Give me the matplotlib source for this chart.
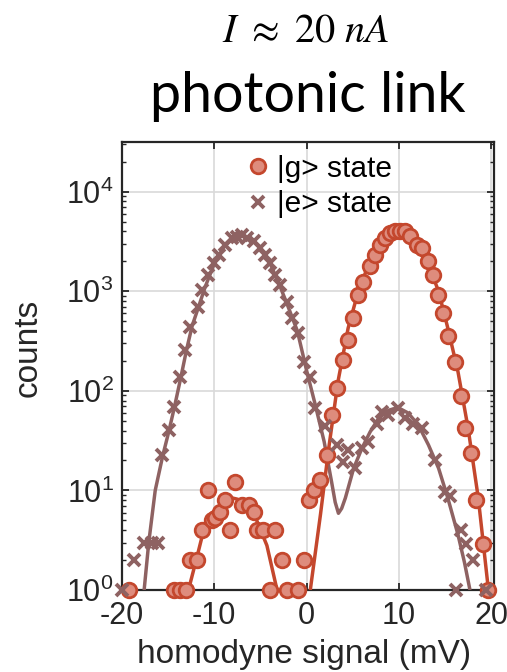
import matplotlib
matplotlib.use("Agg")
import matplotlib.pyplot as plt
from matplotlib.lines import Line2D
from matplotlib.ticker import LogLocator, NullFormatter, FixedLocator, LogFormatterSciNotation

plt.rcParams['font.family'] = ['Liberation Sans', 'DejaVu Sans']
plt.rcParams['mathtext.fontset'] = 'stix'

# ---------------- data ----------------
e_x = [-20.0, -18.65, -17.6, -16.7, -16.1, -15.66, -14.94, -14.4, -13.68, -13.14, -12.6,
       -11.8, -11.33, -10.72, -10.07, -9.53, -8.81, -8.09, -7.55, -7.0, -6.46, -5.75,
       -5.03, -4.49, -3.95, -3.41, -2.86, -2.14, -1.6, -0.9, -0.25, 0.38, 0.92, 2.0,
       3.26, 3.98, 4.52, 5.24, 5.96, 6.68, 7.59, 8.13, 8.85, 9.92, 10.65, 11.55, 12.45,
       13.9, 14.97, 15.5, 16.2, 16.78, 17.3, 18.03, 19.4]
e_y = [1, 2, 3, 3, 3, 22.7, 40.5, 69.5, 139, 258, 443,
       703, 1035, 1465, 1920, 2330, 2930, 3420, 3550, 3700, 3420, 3170,
       2720, 2330, 1920, 1465, 1163, 790, 537, 380, 197, 139, 67, 44,
       28.7, 19.5, 25.5, 16.7, 26.6, 31, 47, 62, 57, 67, 53, 47, 42,
       20, 9.7, 8.7, 1, 4, 2.9, 2, 1]

g_x = [-19.2, -14.4, -13.7, -13.1, -12.6, -11.87, -11.33, -10.72, -10.25, -9.9, -9.35,
       -8.81, -8.27, -7.73, -7.0, -6.29, -5.75, -5.38, -4.67, -3.95, -3.4, -2.68, -2.14,
       -0.88, -0.3, 0.27, 0.85, 1.46, 2.18, 2.72, 3.26, 3.98, 4.52, 5.06, 5.6, 6.14,
       6.86, 7.41, 7.95, 8.49, 9.03, 9.57, 10.1, 10.65, 11.19, 11.91, 12.45, 13.17,
       13.71, 14.25, 14.79, 15.33, 16.05, 16.7, 17.21, 17.78, 18.4, 19.11, 19.7]
g_y = [1, 1, 1, 1, 2, 2, 4, 10, 5, 5.3, 6.1,
       8, 4, 12.3, 7.1, 7.1, 6.1, 4, 4, 1, 4, 2, 1,
       1, 2, 8, 10, 12.8, 22.7, 57, 106, 205, 326, 537, 922, 1255,
       1778, 2330, 2930, 3420, 3845, 4000, 4060, 4000, 3555, 2930, 2720, 1995,
       1465, 922, 604, 352, 197, 88, 42, 23.7, 8, 2.9, 1]

# fitted curves
e_fit_x = [-17.6, -17.1, -16.4, -15.6, -14.9, -14.3, -13.6, -13.0, -12.4, -11.7, -11.0,
           -10.0, -9.0, -8.0, -7.0, -6.0, -5.0, -4.0, -3.0, -2.0, -1.0, 0.0, 0.9, 1.9,
           2.7, 3.1, 3.45, 3.8, 4.2, 5.1, 6.0, 6.9, 7.8, 8.9, 9.9, 11.0, 12.1, 13.2,
           14.3, 15.3, 16.4, 17.1, 17.7]
e_fit_y = [1, 3, 10, 22, 40, 70, 140, 260, 450, 700, 1100,
           1900, 2750, 3400, 3650, 3350, 2750, 1950, 1200, 700, 400, 160, 75, 31,
           12.3, 7.6, 5.9, 6.6, 8.4, 16.7, 26.6, 39, 53, 64, 68, 60, 45.5, 28.7,
           16.7, 8.4, 3.6, 1.9, 1]

g_fit1_x = [-12.8, -11.9, -11.15, -10.25, -9.35, -8.3, -7.55, -6.5, -5.4, -4.3, -3.2]
g_fit1_y = [1, 2.1, 4, 5.7, 7.1, 8.5, 8.2, 7.5, 5, 2.8, 1]

g_fit2_x = [0.4, 1.5, 2.4, 3.4, 4.5, 5.6, 6.7, 7.8, 8.9, 9.9, 11.0, 12.1, 13.2, 14.3,
            15.3, 16.4, 17.5, 18.6, 19.7]
g_fit2_y = [1, 5.7, 26.6, 124, 427, 1000, 1845, 2720, 3550, 3935, 3700, 2930, 1845,
            1000, 427, 156, 42, 8.4, 1]

x_ticks = [-20, -10, 0, 10, 20]
x_tick_labels = ['-20', '-10', '0', '10', '20']
legend_labels = ['|g> state', '|e> state']

# ---------------- styling ----------------
g_col = '#C4472D'
g_face = (0.87, 0.55, 0.49)
e_col = '#8E6262'
dark = '#262626'

fig = plt.figure(figsize=(5.07, 6.72), dpi=100)
ax = fig.add_axes([0.2406, 0.122, 0.7337, 0.6667])

ax.set_yscale('log')
ax.set_xlim(-20, 20.3)
ax.set_ylim(1, 10 ** 4.5)

ax.plot(e_fit_x, e_fit_y, color=e_col, lw=2.5, zorder=3, solid_capstyle='butt')
ax.plot(g_fit1_x, g_fit1_y, color=g_col, lw=2.5, zorder=3, solid_capstyle='butt')
ax.plot(g_fit2_x, g_fit2_y, color=g_col, lw=2.5, zorder=3, solid_capstyle='butt')

ax.plot(g_x, g_y, linestyle='none', marker='o', ms=10.5, mfc=g_face, mec=g_col,
        mew=2.0, zorder=4, clip_on=False)
ax.plot(e_x, e_y, linestyle='none', marker='x', ms=8.5, mec=e_col, mew=2.8,
        zorder=5, clip_on=False)

ax.set_xticks(x_ticks)
ax.set_xticklabels(x_tick_labels)
ax.yaxis.set_major_locator(FixedLocator([1, 10, 100, 1000, 10000]))
ax.yaxis.set_minor_locator(LogLocator(base=10, subs=range(2, 10), numticks=20))
ax.yaxis.set_minor_formatter(NullFormatter())
ax.yaxis.set_major_formatter(LogFormatterSciNotation())

ax.tick_params(which='major', direction='in', length=5, width=1.3, top=True, right=True,
               labelsize=22, colors=dark)
ax.tick_params(axis='x', which='major', pad=8)
ax.tick_params(axis='y', which='major', pad=6)
ax.tick_params(which='minor', direction='in', length=3, width=1.0, top=True, right=True,
               colors=dark)
ax.tick_params(axis='x', which='minor', top=False, bottom=False)

for s in ax.spines.values():
    s.set_linewidth(1.6)
    s.set_color(dark)

ax.grid(True, which='major', color='#d9d9d9', lw=1.2)
ax.set_axisbelow(True)

ax.set_xlabel('homodyne signal (mV)', fontsize=24, color=dark)
ax.xaxis.set_label_coords(0.49, -0.11)
ax.set_ylabel('counts', fontsize=24, color=dark)
ax.yaxis.set_label_coords(-0.21, 0.54)

handles = [Line2D([], [], linestyle='none', marker='o', ms=10.5, mfc=g_face, mec=g_col, mew=2.0),
           Line2D([], [], linestyle='none', marker='x', ms=8.5, mec=e_col, mew=2.8)]
ax.legend(handles, legend_labels, loc='upper left', bbox_to_anchor=(0.333, 0.972),
          frameon=False, fontsize=21.5, handlelength=0.8, handletextpad=0.25,
          labelspacing=0.25, borderpad=0, borderaxespad=0)

fig.text(0.603, 1 - 42 / 672, r'$I\ \approx\ 20\ nA$', fontsize=29, ha='center',
         va='baseline', color='black')
fig.text(0.607, 1 - 112 / 672, 'photonic link', fontsize=40, ha='center', va='baseline',
         family=['Lato', 'DejaVu Sans'], color='black')

fig.savefig('out.png', dpi=100)
